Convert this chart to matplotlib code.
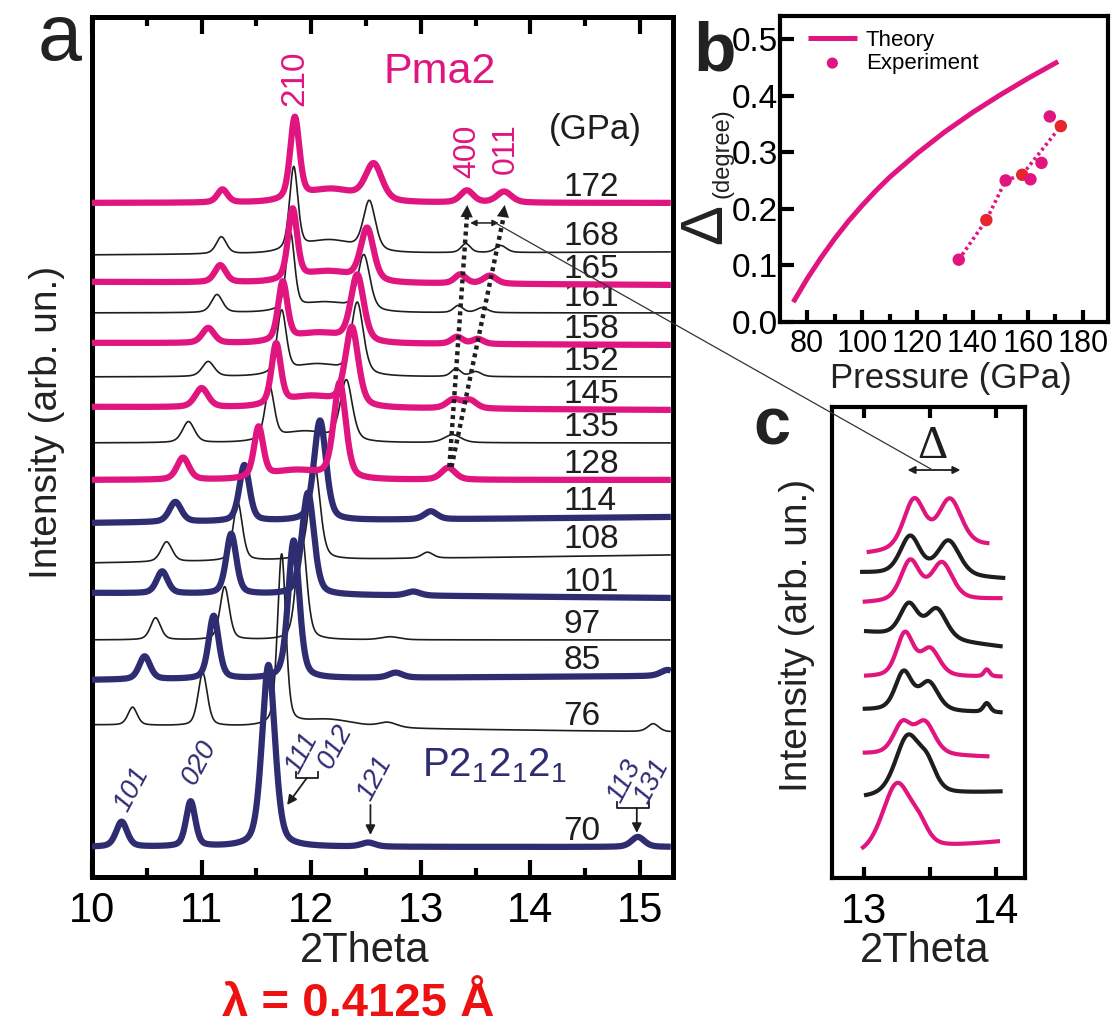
import numpy as np
import matplotlib
matplotlib.use("Agg")
import matplotlib.pyplot as plt
from matplotlib.patches import ConnectionPatch

plt.rcParams['font.family'] = ['Liberation Sans', 'DejaVu Sans']
plt.rcParams['mathtext.fontset'] = 'custom'
plt.rcParams['mathtext.rm'] = 'Liberation Sans'
plt.rcParams['mathtext.it'] = 'Liberation Sans:italic'

PINK = '#e0157f'
NAVY = '#2e2d72'
BLACK = '#1e1e1e'
RED = '#e5262c'

# ---- panel a : XRD patterns (heights in arb. units, stacked) ----
pressures = [70, 76, 85, 97, 101, 108, 114, 128, 135, 145, 152, 158, 161, 165, 168, 172]
kind = ['n', 'k', 'n', 'k', 'n', 'k', 'n', 'm', 'k', 'm', 'k', 'm', 'k', 'm', 'k', 'm']
base_left = [30, 152, 197, 237, 284, 314, 354, 397, 434, 470, 500, 534, 564, 595, 622, 674]
base_right = [30, 145, 201, 237, 279, 322, 360, 397, 434, 467, 500, 532, 564, 592, 625, 674]
peak_pos = [
    [10.27, 10.90, 11.61, 12.52, 14.98],
    [10.37, 11.01, 11.73, 12.15, 12.70, 15.12],
    [10.48, 11.11, 11.84, 12.77, 15.25],
    [10.58, 11.21, 11.91, 12.72],
    [10.64, 11.27, 11.97, 12.93],
    [10.68, 11.33, 12.03, 13.06],
    [10.76, 11.39, 12.08, 13.09],
    [10.83, 11.52, 11.86, 12.26, 13.25],
    [10.88, 11.62, 11.94, 12.32, 13.29],
    [11.00, 11.68, 12.00, 12.37, 13.30, 13.45],
    [11.06, 11.73, 12.05, 12.42, 13.32, 13.50],
    [11.06, 11.74, 12.06, 12.42, 13.33, 13.52],
    [11.14, 11.81, 12.12, 12.48, 13.34, 13.56],
    [11.17, 11.83, 12.15, 12.51, 13.36, 13.63],
    [11.18, 11.84, 12.16, 12.53, 13.41, 13.73],
    [11.19, 11.85, 12.18, 12.57, 13.42, 13.76],
]
peak_amp = [
    [25, 45, 182, 4, 10],
    [18, 53, 171, 8, 5, 8],
    [23, 63, 138, 5, 6],
    [22, 53, 110, 3],
    [22, 60, 102, 4],
    [20, 58, 95, 6],
    [20, 56, 100, 8],
    [22, 50, 9, 95, 12],
    [21, 52, 11, 60, 8],
    [19, 60, 11, 78, 9, 8],
    [15, 62, 12, 71, 8, 5],
    [15, 58, 10, 66, 7, 5],
    [18, 76, 10, 55, 7, 5],
    [17, 70, 11, 52, 9, 8],
    [17, 82, 13, 49, 9, 7],
    [13, 81, 13, 36, 12, 11],
]
peak_wid = [
    [0.12, 0.10, 0.14, 0.15, 0.14],
    [0.10, 0.10, 0.09, 0.60, 0.20, 0.12],
    [0.12, 0.11, 0.12, 0.15, 0.15],
    [0.11, 0.10, 0.11, 0.20],
    [0.12, 0.11, 0.13, 0.15],
    [0.12, 0.10, 0.12, 0.12],
    [0.13, 0.11, 0.13, 0.14],
    [0.13, 0.10, 0.55, 0.13, 0.15],
    [0.13, 0.10, 0.55, 0.13, 0.18],
    [0.14, 0.10, 0.55, 0.14, 0.15, 0.14],
    [0.13, 0.10, 0.55, 0.13, 0.10, 0.12],
    [0.13, 0.10, 0.55, 0.14, 0.12, 0.12],
    [0.12, 0.09, 0.55, 0.13, 0.10, 0.12],
    [0.12, 0.10, 0.55, 0.14, 0.12, 0.14],
    [0.11, 0.09, 0.55, 0.13, 0.10, 0.12],
    [0.11, 0.10, 0.55, 0.18, 0.14, 0.16],
]

# ---- panel b ----
theory_p = [75, 80, 85, 90, 95, 100, 105, 110, 120, 130, 140, 150, 160, 171]
theory_d = [0.035, 0.076, 0.113, 0.147, 0.178, 0.206, 0.232, 0.256, 0.298, 0.336, 0.370,
            0.401, 0.430, 0.460]
exp_p = [135, 145, 152, 158, 161, 165, 168, 172]
exp_d = [0.110, 0.180, 0.250, 0.260, 0.252, 0.281, 0.363, 0.346]
exp_red = [False, True, False, True, False, False, False, True]
guide_idx = [0, 1, 2, 3, 7]

# ---- panel c : 400/011 doublet ----
c_kind = ['m', 'k', 'm', 'k', 'm', 'k', 'm', 'k', 'm']
c_start = [12.98, 13.00, 12.99, 12.99, 13.00, 13.00, 12.99, 12.97, 13.02]
c_end = [14.03, 14.05, 13.95, 14.05, 14.05, 14.05, 14.05, 14.07, 13.95]
c_base_left = [22, 80, 124, 168, 201, 246, 275, 305, 324]
c_base_right = [36, 86, 121, 165, 201, 231, 279, 299, 332]
c_peak_pos = [[13.25, 13.42], [13.33, 13.48], [13.29, 13.46], [13.30, 13.49, 13.93],
              [13.31, 13.50, 13.93], [13.34, 13.55], [13.35, 13.59], [13.35, 13.64], [13.38, 13.65]]
c_peak_amp = [[68, 15], [58, 24], [30, 32], [38, 28, 9], [43, 27, 7], [32, 30], [40, 37], [38, 35], [50, 48]]
c_peak_wid = [[0.26, 0.16], [0.22, 0.16], [0.16, 0.18], [0.15, 0.17, 0.06], [0.15, 0.17, 0.05],
              [0.16, 0.18], [0.17, 0.19], [0.18, 0.20], [0.19, 0.21]]


def profile(x, pos, amp, wid, eta=0.4):
    y = np.zeros_like(x)
    for c, a, w in zip(pos, amp, wid):
        u = (x - c) / (w / 2)
        y += a * (eta / (1 + u ** 2) + (1 - eta) * np.exp(-np.log(2) * u ** 2))
    return y


colors = {'n': NAVY, 'k': BLACK, 'm': PINK}

fig = plt.figure(figsize=(11.14, 10.27), dpi=100)

# ================= panel a =================
ax = fig.add_axes([0.0826, 0.1461, 0.5215, 0.8374])
xa = np.linspace(10.0, 15.28, 1500)
for i, p in enumerate(pressures):
    base = base_left[i] + (base_right[i] - base_left[i]) * (xa - 10.0) / 5.28
    y = base + profile(xa, peak_pos[i], peak_amp[i], peak_wid[i])
    thick = kind[i] != 'k'
    ax.plot(xa, y, color=colors[kind[i]], lw=4.5 if thick else 1.2,
            zorder=3 if thick else 2, solid_capstyle='butt')
    ax.text(14.30, base_right[i] + 7, str(p), fontsize=24, color=BLACK, ha='left', va='baseline')

ax.set_xlim(10, 15.3)
ax.set_ylim(0, 860)
ax.set_yticks([])
ax.set_xticks([10, 11, 12, 13, 14, 15])
ax.set_xticks(np.arange(10.5, 15.3, 1.0), minor=True)
ax.tick_params(axis='x', which='both', direction='in', top=True, bottom=True, width=3, labelsize=30, pad=10)
ax.tick_params(axis='x', which='major', length=12)
ax.tick_params(axis='x', which='minor', length=6.5)
for s in ax.spines.values():
    s.set_linewidth(3.6)

ax.text(11.854, 799, '210', rotation=90, ha='center', va='center', color=PINK, fontsize=24)
ax.text(12.66, 794, 'Pma2', ha='left', va='baseline', color=PINK, fontsize=31)
ax.text(14.17, 738, '(GPa)', ha='left', va='baseline', color=BLACK, fontsize=25)
ax.text(13.42, 726, '400', rotation=90, ha='center', va='center', color=PINK, fontsize=23)
ax.text(13.77, 728, '011', rotation=90, ha='center', va='center', color=PINK, fontsize=23)
ax.text(13.01, 101, r'P2$_1$2$_1$2$_1$', ha='left', va='baseline', color=NAVY, fontsize=29)

for lab, xx, yy in [('101', 10.36, 88), ('020', 10.98, 115), ('111', 11.92, 124), ('012', 12.22, 131),
                    ('121', 12.58, 99), ('113', 14.86, 96), ('131', 15.11, 96)]:
    ax.text(xx, yy, lab, rotation=62, ha='center', va='center', color=NAVY, fontsize=20,
            fontstyle='italic')

arr = dict(arrowstyle='-|>', lw=1.3, color=BLACK, mutation_scale=14, shrinkA=0, shrinkB=0)
# brackets + arrows for reflections
ax.plot([11.863, 11.863, 12.064, 12.064], [105, 99, 99, 105], color=BLACK, lw=1.3)
ax.annotate('', xy=(11.78, 72), xytext=(11.96, 99), arrowprops=arr)
ax.annotate('', xy=(12.54, 42), xytext=(12.54, 72), arrowprops=arr)
ax.plot([14.79, 14.79, 15.08, 15.08], [75, 69, 69, 75], color=BLACK, lw=1.3)
ax.annotate('', xy=(14.97, 44), xytext=(14.97, 69), arrowprops=arr)

# dotted guides for 400 / 011
for (x0, x1) in [(13.26, 13.42), (13.28, 13.755)]:
    ax.plot([x0, x1], [410, 660], color=BLACK, lw=3.2, ls=(0, (0.9, 0.9)), zorder=4)
    dx, dy = (x1 - x0) * 0.04, 250 * 0.04
    ax.annotate('', xy=(x1 + dx * 0.5, 672), xytext=(x1 - dx, 660 - dy),
                arrowprops=dict(arrowstyle='-|>', lw=0, color=BLACK, mutation_scale=22,
                                shrinkA=0, shrinkB=0), zorder=5)
ax.annotate('', xy=(13.45, 654), xytext=(13.71, 654),
            arrowprops=dict(arrowstyle='<|-|>', lw=1.1, color=BLACK, mutation_scale=9,
                            shrinkA=0, shrinkB=0))

# ================= panel b =================
bx = fig.add_axes([0.7002, 0.6865, 0.2944, 0.2980])
bx.plot(theory_p, theory_d, color=PINK, lw=3.6, label='Theory', solid_capstyle='butt')
bx.plot([exp_p[i] for i in guide_idx], [exp_d[i] for i in guide_idx], color=PINK, lw=2.6,
        ls=(0, (0.8, 0.9)), zorder=2)
bx.scatter(exp_p, exp_d, s=80, c=[RED if r else PINK for r in exp_red], edgecolors='none',
           zorder=3, label='Experiment')
bx.set_xlim(70.2, 189.1)
bx.set_ylim(0, 0.5406)
bx.set_xticks([80, 100, 120, 140, 160, 180])
bx.set_xticks(np.arange(90, 180, 20), minor=True)
bx.set_yticks([0.0, 0.1, 0.2, 0.3, 0.4, 0.5])
bx.set_yticklabels(['0.0', '0.1', '0.2', '0.3', '0.4', '0.5'])
bx.tick_params(axis='both', which='both', direction='in', width=3)
bx.tick_params(axis='x', which='major', length=9, pad=5, labelsize=22)
bx.tick_params(axis='x', which='minor', length=6)
bx.tick_params(axis='y', which='major', length=10, pad=1.5, labelsize=24)
for s in bx.spines.values():
    s.set_linewidth(3)
bx.legend(loc='upper left', bbox_to_anchor=(0.085, 0.955), frameon=False, fontsize=16,
          handlelength=2.2, handletextpad=0.4, labelspacing=0.1, borderaxespad=0, borderpad=0,
          markerscale=0.9)

# ================= panel c =================
cx = fig.add_axes([0.7469, 0.1451, 0.1733, 0.4586])
for i in range(len(c_kind)):
    xc = np.linspace(c_start[i], c_end[i], 400)
    base = c_base_left[i] + (c_base_right[i] - c_base_left[i]) * (xc - c_start[i]) / (c_end[i] - c_start[i])
    yc = base + profile(xc, c_peak_pos[i], c_peak_amp[i], c_peak_wid[i])
    cx.plot(xc, yc, color=colors[c_kind[i]], lw=3.0, solid_capstyle='butt')
cx.set_xlim(12.758, 14.22)
cx.set_ylim(0, 471)
cx.set_yticks([])
cx.set_xticks([13, 13.5, 14])
cx.set_xticklabels(['13', '', '14'])
cx.tick_params(axis='x', direction='in', top=True, bottom=True, width=3, length=8,
               labelsize=30, pad=10)
for s in cx.spines.values():
    s.set_linewidth(3)
cx.annotate('', xy=(13.33, 408), xytext=(13.73, 408),
            arrowprops=dict(arrowstyle='<|-|>', lw=1.3, color=BLACK, mutation_scale=11,
                            shrinkA=0, shrinkB=0))
cx.text(13.52, 420, '\u0394', ha='center', va='baseline', fontsize=34, family='Liberation Serif',
        color=BLACK)

con = ConnectionPatch(xyA=(13.68, 654), coordsA=ax.transData, xyB=(13.52, 408), coordsB=cx.transData,
                      color='#333333', lw=0.9, zorder=10)
fig.add_artist(con)

# ================= figure texts =================
fig.text(0.034, 0.9416, 'a', fontsize=57, color='#222222', ha='left', va='baseline')
fig.text(0.622, 0.9318, 'b', fontsize=50, fontweight='bold', color='#222222', ha='left', va='baseline')
fig.text(0.676, 0.5667, 'c', fontsize=48, fontweight='bold', color='#222222', ha='left', va='baseline')

fig.text(0.0422, 0.589, 'Intensity (arb. un.)', rotation=90, ha='center', va='center', fontsize=28,
         color='#222222')
fig.text(0.7154, 0.3817, 'Intensity (arb. un.)', rotation=90, ha='center', va='center', fontsize=28,
         color='#222222')
fig.text(0.327, 0.0633, '2Theta', ha='center', va='baseline', fontsize=30, color='#222222')
fig.text(0.830, 0.0633, '2Theta', ha='center', va='baseline', fontsize=30, color='#222222')
fig.text(0.8537, 0.6225, 'Pressure (GPa)', ha='center', va='baseline', fontsize=25, color='#222222')
fig.text(0.6335, 0.7819, '\u0394', rotation=90, ha='center', va='center', fontsize=43, color='#222222')
fig.text(0.6485, 0.851, '(degree)', rotation=90, ha='center', va='center', fontsize=17, color='#222222')
fig.text(0.3214, 0.011, '\u03bb = 0.4125 \u00c5', ha='center', va='baseline', fontsize=34,
         fontweight='bold', color='#ee1111')

fig.savefig('out.png', dpi=100)
